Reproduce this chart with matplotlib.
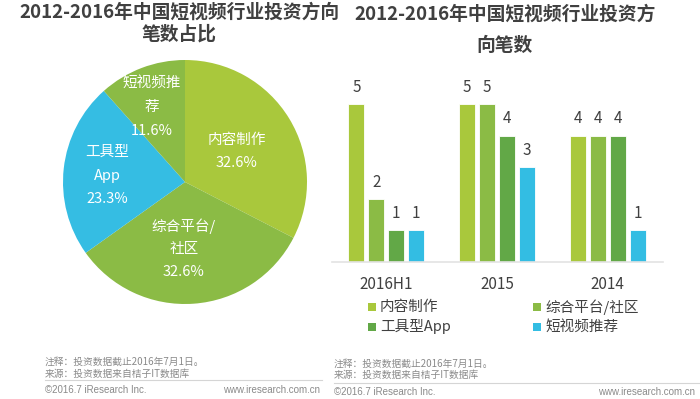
import matplotlib
matplotlib.use("Agg")
import matplotlib.pyplot as plt
from matplotlib.patches import Rectangle
from matplotlib.lines import Line2D

plt.rcParams['font.family'] = ['Noto Sans CJK SC', 'DejaVu Sans']

# ---- data ----
pie_labels = [["内容制作"], ["综合平台/", "社区"], ["工具型", "App"], ["短视频推", "荐"]]
pie_values = [32.6, 32.6, 23.3, 11.6]
pie_colors = ["#A9C83C", "#8BBB45", "#35BDE3", "#8BBB45"]

groups = ["2016H1", "2015", "2014"]
series = ["内容制作", "综合平台/社区", "工具型App", "短视频推荐"]
bar_colors = ["#A9C83C", "#8BBB45", "#62A847", "#33BDE3"]
values = {
    "内容制作": [5, 5, 4],
    "综合平台/社区": [2, 5, 4],
    "工具型App": [1, 4, 4],
    "短视频推荐": [1, 3, 1],
}

W, H = 700, 399
fig = plt.figure(figsize=(7, 3.99), dpi=100)
fig.patch.set_facecolor("white")

def fx(px):
    return px / W

def fy(py):
    return 1 - py / H

title_color = "#404040"
# ---- titles ----
fig.text(fx(179), fy(12), "2012-2016年中国短视频行业投资方向", ha="center", va="center",
         fontsize=13.5, fontweight="bold", color=title_color)
fig.text(fx(179), fy(34), "笔数占比", ha="center", va="center",
         fontsize=13.5, fontweight="bold", color=title_color)
fig.text(fx(505), fy(14), "2012-2016年中国短视频行业投资方", ha="center", va="center",
         fontsize=13.5, fontweight="bold", color=title_color)
fig.text(fx(505), fy(45), "向笔数", ha="center", va="center",
         fontsize=13.5, fontweight="bold", color=title_color)

# ---- pie ----
cx, cy, r = 185, 182, 122
axp = fig.add_axes([fx(cx - r), fy(cy + r), 2 * r / W, 2 * r / H])
axp.pie(pie_values, colors=pie_colors, startangle=90, counterclock=False,
        radius=1, wedgeprops=dict(linewidth=0))
axp.set_xlim(-1, 1)
axp.set_ylim(-1, 1)
axp.set_aspect("auto")
axp.axis("off")

label_pos = [(237, [140, 163]), (184, [226, 249, 272]), (107, [152, 176, 199]), (152, [83, 107, 131])]
for lines, val, (lx, lys) in zip(pie_labels, pie_values, label_pos):
    texts = lines + [f"{val:.1f}%"]
    for t, ly in zip(texts, lys):
        axp.text((lx - cx) / r, (cy - ly) / r, t, ha="center", va="center",
                 color="white", fontsize=10.5)

# ---- bars ----
base_y = 262
unit = 31.6
top_val = 6
axb = fig.add_axes([fx(332), fy(base_y), (663 - 332) / W, top_val * unit / H])
offsets = [-0.27, -0.09, 0.09, 0.27]
bw = 0.145
for s, col, off in zip(series, bar_colors, offsets):
    xs = [i + off for i in range(len(groups))]
    bars = axb.bar(xs, values[s], width=bw, color=col, edgecolor="#ffffff",
                   linewidth=0.6)
    for b, v in zip(bars, values[s]):
        axb.annotate(str(v), (b.get_x() + b.get_width() / 2, v), xytext=(0, 12),
                     textcoords="offset points", ha="center", va="center",
                     fontsize=11, color="#404040")
axb.set_xlim(-0.49, 2.5)
axb.set_ylim(0, top_val)
for sp in ["top", "right", "left"]:
    axb.spines[sp].set_visible(False)
axb.spines["bottom"].set_color("#E3E3E3")
axb.spines["bottom"].set_linewidth(1.2)
axb.set_yticks([])
axb.set_xticks(range(len(groups)))
axb.set_xticklabels(groups, fontsize=11, color="#404040")
axb.tick_params(axis="x", length=0, pad=10)

# ---- legend ----
leg_pos = [(368, 307), (533, 307), (368, 327), (533, 327)]
for s, col, (lx, ly) in zip(series, bar_colors, leg_pos):
    fig.patches.append(Rectangle((fx(lx), fy(ly + 4)), 8 / W, 8 / H, transform=fig.transFigure,
                                 facecolor=col, edgecolor="none"))
    fig.text(fx(lx + 12), fy(ly), s, ha="left", va="center", fontsize=10.5, color="#404040")

# ---- footers ----
foot_color = "#8A8A8A"
def footer(x0, x1, y1, y2, yl, yc):
    fig.text(fx(x0), fy(y1), "注释：投资数据截止2016年7月1日。", ha="left", va="center",
             fontsize=7, color=foot_color)
    fig.text(fx(x0), fy(y2), "来源：投资数据来自桔子IT数据库", ha="left", va="center",
             fontsize=7, color=foot_color)
    fig.add_artist(Line2D([fx(x0), fx(x1)], [fy(yl), fy(yl)], transform=fig.transFigure,
                          color="#D5D5D5", linewidth=0.8))
    fig.text(fx(x0), fy(yc), "©2016.7 iResearch Inc.", ha="left", va="center",
             fontsize=7, color=foot_color, family=["Liberation Sans", "DejaVu Sans"])

footer(45, 322, 362, 374, 380, 390)
fig.text(fx(320), fy(390), "www.iresearch.com.cn", ha="right", va="center",
         fontsize=7, color=foot_color, family=["Liberation Sans", "DejaVu Sans"])
footer(334, 700, 364, 375, 383, 392)
fig.text(fx(695), fy(392), "www.iresearch.com.cn", ha="right", va="center",
         fontsize=7, color=foot_color, family=["Liberation Sans", "DejaVu Sans"])

fig.savefig("out.png", dpi=100, facecolor="white")
